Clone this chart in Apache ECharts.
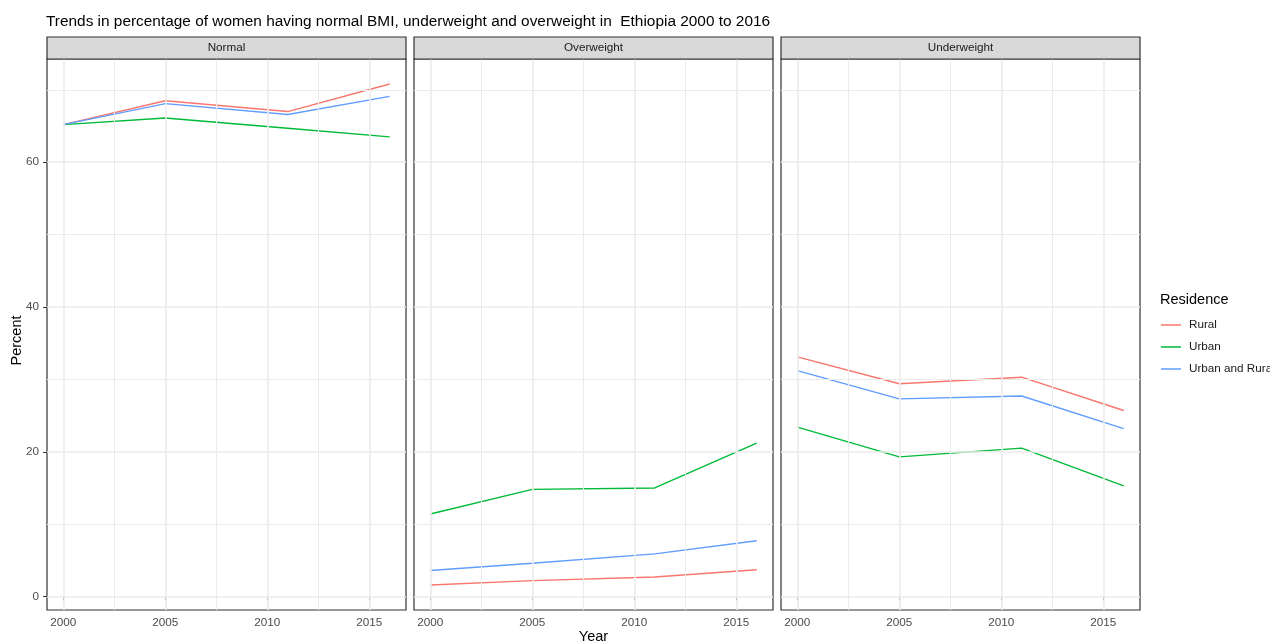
<!DOCTYPE html>
<html>
<head>
<meta charset="utf-8">
<title>BMI trends, Ethiopia 2000-2016</title>
<script src="https://cdn.jsdelivr.net/npm/echarts@6/dist/echarts.min.js"></script>
<style>
  html, body { margin: 0; padding: 0; background: #ffffff; }
  #chart { width: 1270px; height: 641px; }
</style>
</head>
<body>
<div id="chart"></div>
<script>
// Survey years (DHS rounds)
const years = [2000, 2005, 2011, 2016];

// Facet panels and residence groups
const panels = ['Normal', 'Overweight', 'Underweight'];
const residences = ['Rural', 'Urban', 'Urban and Rural'];

// Percent of women, per panel, per residence
const normalRural = [65.2, 68.5, 67.0, 70.8];
const normalUrban = [65.2, 66.1, 64.7, 63.5];
const normalBoth = [65.2, 68.1, 66.6, 69.1];

const overRural = [1.6, 2.2, 2.7, 3.7];
const overUrban = [11.4, 14.8, 15.0, 21.2];
const overBoth = [3.6, 4.6, 5.9, 7.7];

const underRural = [33.1, 29.4, 30.3, 25.7];
const underUrban = [23.4, 19.3, 20.5, 15.3];
const underBoth = [31.2, 27.3, 27.7, 23.2];

// Tick and grid positions
const xTicks = [2000, 2005, 2010, 2015];
const xMinor = [2002.5, 2007.5, 2012.5];
const yTicks = [0, 20, 40, 60];
const yMinor = [10, 30, 50, 70];

const panelData = [
  [normalRural, normalUrban, normalBoth],
  [overRural, overUrban, overBoth],
  [underRural, underUrban, underBoth]
];

const colors = ['#F8766D', '#00BA38', '#619CFF'];
const FONT = "'Liberation Sans', Arial, sans-serif";

// ggplot-style 5% expansion of the data range
const allY = panelData.flat(2);
const yLo = Math.min(...allY), yHi = Math.max(...allY);
const yPad = (yHi - yLo) * 0.05;
const xPad = (years[years.length - 1] - years[0]) * 0.05;

const panelLeft = [47, 414, 781];
const panelTop = 59, panelW = 359, panelH = 551;

const grids = [], xAxes = [], yAxes = [], series = [], graphics = [];

panels.forEach((name, i) => {
  grids.push({
    left: panelLeft[i], top: panelTop, width: panelW, height: panelH,
    show: true, backgroundColor: '#ffffff', borderColor: '#333333', borderWidth: 1.2,
    containLabel: false
  });
  xAxes.push({
    type: 'value', gridIndex: i,
    min: years[0] - xPad, max: years[years.length - 1] + xPad,
    axisLine: { show: false },
    splitLine: { show: false },
    axisTick: { show: true, customValues: xTicks, length: 4, lineStyle: { color: '#333333' } },
    axisLabel: {
      show: true, customValues: xTicks, color: '#4D4D4D', fontSize: 11.7, fontFamily: FONT,
      margin: 7, formatter: v => String(v)
    }
  });
  yAxes.push({
    type: 'value', gridIndex: i,
    min: yLo - yPad, max: yHi + yPad,
    axisLine: { show: false },
    splitLine: { show: false },
    axisTick: { show: i === 0, customValues: yTicks, length: 4, lineStyle: { color: '#333333' } },
    axisLabel: {
      show: i === 0, customValues: yTicks, color: '#4D4D4D', fontSize: 11.7, fontFamily: FONT,
      margin: 8, formatter: v => String(v)
    }
  });

  // panel grid lines
  const gl = (arr, axis, w) => arr.map(v => ({ [axis]: v, lineStyle: { color: '#EBEBEB', width: w, type: 'solid' } }));
  series.push({
    type: 'line', xAxisIndex: i, yAxisIndex: i, data: [], z: 1, silent: true,
    markLine: {
      silent: true, symbol: 'none', animation: false, label: { show: false },
      data: [].concat(gl(xMinor, 'xAxis', 1), gl(yMinor, 'yAxis', 1),
                      gl(xTicks, 'xAxis', 1.6), gl(yTicks, 'yAxis', 1.6))
    }
  });

  residences.forEach((res, j) => {
    series.push({
      name: res, type: 'line', xAxisIndex: i, yAxisIndex: i, z: 3,
      showSymbol: false, symbol: 'none',
      lineStyle: { color: colors[j], width: 1.4 },
      itemStyle: { color: colors[j] },
      data: years.map((y, k) => [y, panelData[i][j][k]])
    });
  });

  // facet strip
  graphics.push({
    type: 'rect', shape: { x: panelLeft[i], y: 37, width: panelW, height: 22 },
    style: { fill: '#D9D9D9', stroke: '#333333', lineWidth: 1.2 }, z: 10
  });
  graphics.push({
    type: 'text', x: panelLeft[i] + panelW / 2, y: 48,
    style: { text: name, fill: '#1A1A1A', font: '11.7px ' + FONT, align: 'center', verticalAlign: 'middle' }, z: 11
  });
});

// axis titles and legend title
graphics.push({
  type: 'text', x: 17, y: panelTop + panelH / 2 + 6, rotation: Math.PI / 2,
  style: { text: 'Percent', fill: '#000000', font: '14.5px ' + FONT, align: 'center', verticalAlign: 'middle' }
});
graphics.push({
  type: 'text', x: (panelLeft[0] + panelLeft[2] + panelW) / 2, y: 629,
  style: { text: 'Year', fill: '#000000', font: '14.5px ' + FONT, align: 'center', verticalAlign: 'top' }
});
graphics.push({
  type: 'text', x: 1160, y: 300,
  style: { text: 'Residence', fill: '#000000', font: '14.5px ' + FONT, align: 'left', verticalAlign: 'middle' }
});

const chart = echarts.init(document.getElementById('chart'), null, { renderer: 'canvas' });
chart.setOption({
  animation: false,
  backgroundColor: '#ffffff',
  title: {
    text: 'Trends in percentage of women having normal BMI, underweight and overweight in  Ethiopia 2000 to 2016',
    left: 41, top: 9,
    textStyle: { fontSize: 15.4, fontWeight: 'normal', color: '#000000', fontFamily: FONT }
  },
  legend: {
    data: residences, orient: 'vertical', left: 1156, top: 313,
    itemWidth: 20, itemHeight: 1.5, itemGap: 8, icon: 'rect',
    selectedMode: false,
    textStyle: { fontSize: 11.7, fontFamily: FONT, color: '#1A1A1A', lineHeight: 14, padding: [0, 0, 0, 3] }
  },
  grid: grids,
  xAxis: xAxes,
  yAxis: yAxes,
  series: series,
  graphic: graphics
});
</script>
</body>
</html>
